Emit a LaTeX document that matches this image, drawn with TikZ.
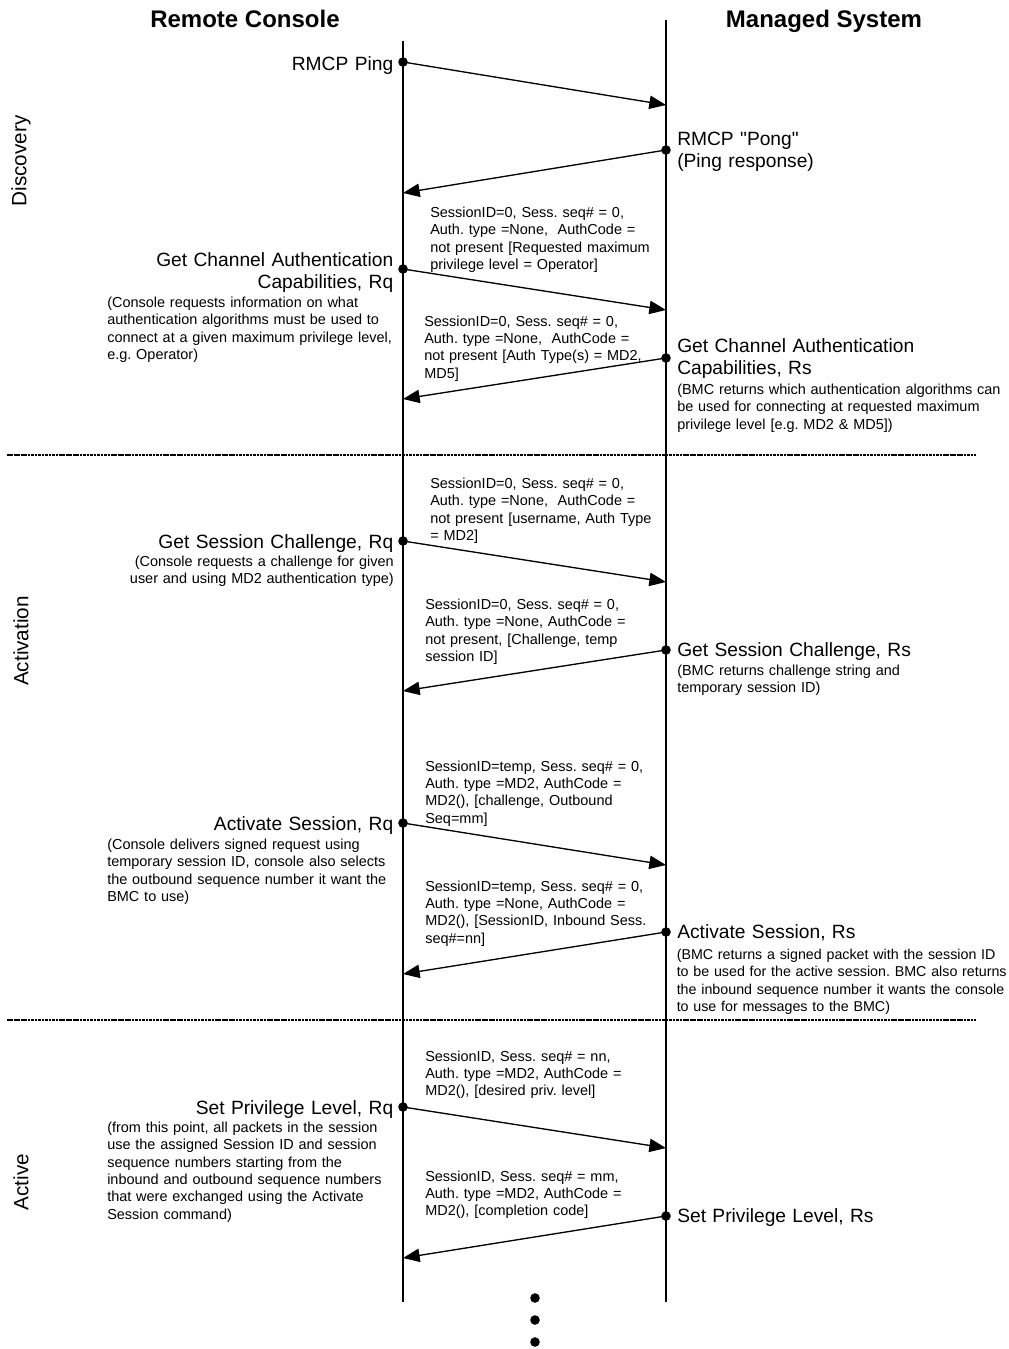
\documentclass[tikz,border=0pt]{standalone}
\usepackage{fontspec}
\setmainfont{Liberation Sans}[Ligatures=TeXOff]
\usetikzlibrary{arrows.meta}
\frenchspacing
\begin{document}
\begin{tikzpicture}[x=0.75pt,y=-0.75pt,
  life/.style={line width=1.7pt},
  msg/.style={line width=1pt,-{Triangle[length=12.5pt,width=10pt]}},
  dotmark/.style={circle,fill=black,inner sep=0pt,minimum size=7.2pt},
  phaseline/.style={line width=1.6pt,dash pattern=on 2pt off 0.6pt},
  headlbl/.style={inner sep=0pt,anchor=base,font=\fontsize{18}{21}\selectfont\bfseries},
  phaselbl/.style={inner sep=0pt,rotate=90,font=\fontsize{15.5}{18}\selectfont},
  bigl/.style={inner sep=0pt,anchor=base east,align=right,text width=260pt,font=\fontsize{14.4}{16.5}\selectfont},
  bigr/.style={inner sep=0pt,anchor=base west,align=left,text width=250pt,font=\fontsize{14.4}{16.5}\selectfont},
  notel/.style={inner sep=0pt,anchor=base west,align=left,text width=230pt,font=\fontsize{10.85}{13}\selectfont},
  noter/.style={inner sep=0pt,anchor=base east,align=right,text width=230pt,font=\fontsize{10.85}{13}\selectfont},
  noteR/.style={inner sep=0pt,anchor=base west,align=left,text width=260pt,font=\fontsize{10.85}{13}\selectfont},
  msglbl/.style={inner sep=0pt,anchor=base west,align=left,text width=185pt,font=\fontsize{10.85}{13}\selectfont}
]
\useasboundingbox (0,0) rectangle (1009,1349);

% headers
\node[headlbl] (hL) at (245,27) {Remote Console};
\node[headlbl] (hR) at (824,27) {Managed System};

% phase labels
\node[phaselbl] (phD) at (21,161) {Discovery};
\node[phaselbl] (phA) at (21,641) {Activation};
\node[phaselbl] (phX) at (21,1182) {Active};

% separators
\coordinate (s1a) at (7,455); \coordinate (s1b) at (976,455);
\coordinate (s2a) at (7,1020); \coordinate (s2b) at (976,1020);
\draw[phaseline] (s1a) -- (s1b);
\draw[phaseline] (s2a) -- (s2b);

% lifelines
\coordinate (LT) at (403,41); \coordinate (LB) at (403,1302);
\coordinate (RT) at (666,20); \coordinate (RB) at (666,1302);
\draw[life] (LT) -- (LB);
\draw[life] (RT) -- (RB);

% message dots and targets
\node[dotmark] (d1) at (403,62) {};   \coordinate (t1) at (666,105);
\node[dotmark] (d2) at (666,150) {};  \coordinate (t2) at (403,193);
\node[dotmark] (d3) at (403,269) {};  \coordinate (t3) at (666,310);
\node[dotmark] (d4) at (666,358) {};  \coordinate (t4) at (403,399);
\node[dotmark] (d5) at (403,541) {};  \coordinate (t5) at (666,582);
\node[dotmark] (d6) at (666,650) {};  \coordinate (t6) at (403,691);
\node[dotmark] (d7) at (403,823) {};  \coordinate (t7) at (666,865);
\node[dotmark] (d8) at (666,932) {};  \coordinate (t8) at (403,974);
\node[dotmark] (d9) at (403,1107) {}; \coordinate (t9) at (666,1148);
\node[dotmark] (d10) at (666,1216) {}; \coordinate (t10) at (403,1258);

\foreach \i in {1,...,10} {\draw[msg] (d\i.center) -- (t\i);}

% left big labels
\node[bigl] (l1) at (393.5,70) {RMCP Ping};
\node[bigl] (l3) at (393.5,266) {Get Channel Authentication\\Capabilities, Rq};
\node[bigl] (l5) at (393.5,548) {Get Session Challenge, Rq};
\node[bigl] (l7) at (393.5,830) {Activate Session, Rq};
\node[bigl] (l9) at (393.5,1114) {Set Privilege Level, Rq};

% right big labels
\node[bigr] (r2) at (677,145.5) {RMCP "Pong"\\(Ping response)};
\node[bigr] (r4) at (677,352) {Get Channel Authentication\\Capabilities, Rs};
\node[bigr] (r6) at (677,656) {Get Session Challenge, Rs};
\node[bigr] (r8) at (677,938.5) {Activate Session, Rs};
\node[bigr] (r10) at (677,1222) {Set Privilege Level, Rs};

% left notes
\node[notel] (n3) at (107,307.5) {(Console requests information on what\\authentication algorithms must be used to\\connect at a given maximum privilege level,\\e.g. Operator)};
\node[noter] (n5) at (394,566) {(Console requests a challenge for given\\user and using MD2 authentication type)};
\node[notel] (n7) at (107,849.5) {(Console delivers signed request using\\temporary session ID, console also selects\\the outbound sequence number it want the\\BMC to use)};
\node[notel] (n9) at (107,1132.5) {(from this point, all packets in the session\\use the assigned Session ID and session\\sequence numbers starting from the\\inbound and outbound sequence numbers\\that were exchanged using the Activate\\Session command)};

% right notes
\node[noteR] (n4) at (677,394.5) {(BMC returns which authentication algorithms can\\be used for connecting at requested maximum\\privilege level [e.g. MD2 \& MD5])};
\node[noteR] (n6) at (677,675.5) {(BMC returns challenge string and\\temporary session ID)};
\node[noteR,font=\fontsize{10.7}{13}\selectfont] (n8) at (676.5,959.5) {(BMC returns a signed packet with the session ID\\to be used for the active session. BMC also returns\\the inbound sequence number it wants the console\\to use for messages to the BMC)};

% message labels
\node[msglbl] (m3) at (430,217.5) {SessionID=0, Sess. seq\# = 0,\\Auth. type =None,\ \ AuthCode =\\not present [Requested maximum\\privilege level = Operator]};
\node[msglbl] (m4) at (424,326) {SessionID=0, Sess. seq\# = 0,\\Auth. type =None,\ \ AuthCode =\\not present [Auth Type(s) = MD2,\\MD5]};
\node[msglbl] (m5) at (430,488.5) {SessionID=0, Sess. seq\# = 0,\\Auth. type =None,\ \ AuthCode =\\not present [username, Auth Type\\= MD2]};
\node[msglbl] (m6) at (425,609.5) {SessionID=0, Sess. seq\# = 0,\\Auth. type =None, AuthCode =\\not present, [Challenge, temp\\session ID]};
\node[msglbl] (m7) at (425,771) {SessionID=temp, Sess. seq\# = 0,\\Auth. type =MD2, AuthCode =\\MD2(), [challenge, Outbound\\Seq=mm]};
\node[msglbl] (m8) at (425,891) {SessionID=temp, Sess. seq\# = 0,\\Auth. type =None, AuthCode =\\MD2(), [SessionID, Inbound Sess.\\seq\#=nn]};
\node[msglbl] (m9) at (425,1061) {SessionID, Sess. seq\# = nn,\\Auth. type =MD2, AuthCode =\\MD2(), [desired priv. level]};
\node[msglbl] (m10) at (425,1181) {SessionID, Sess. seq\# = mm,\\Auth. type =MD2, AuthCode =\\MD2(), [completion code]};

% continuation dots
\node[dotmark] (c1) at (535,1298) {};
\node[dotmark] (c2) at (535,1320) {};
\node[dotmark] (c3) at (535,1342) {};
\end{tikzpicture}
\end{document}
